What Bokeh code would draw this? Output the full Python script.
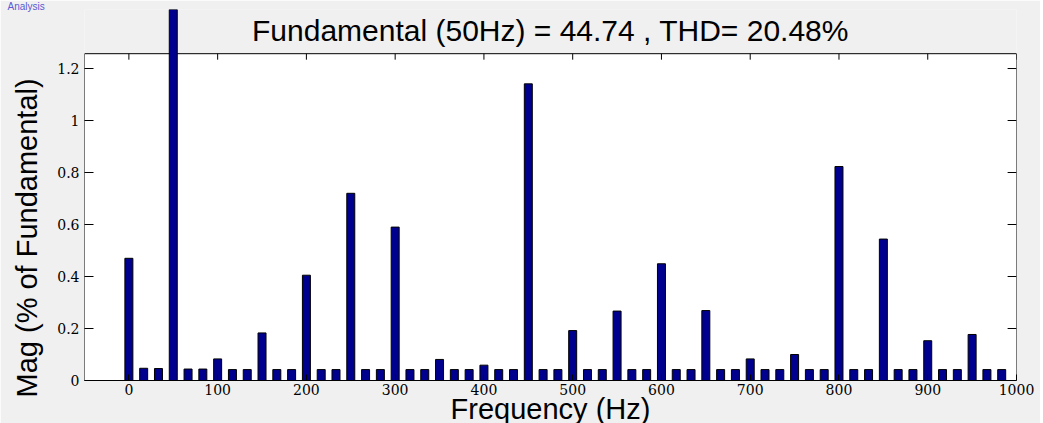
from bokeh.plotting import figure
from bokeh.layouts import row
from bokeh.models import (Range1d, FixedTicker, BoxAnnotation, Label, Title,
                          Spacer)
from bokeh.embed import file_html
from bokeh.resources import INLINE

# FFT bins are 50/3 Hz apart (3 cycles of 50 Hz in the analysis window)
n_bins = 60
bin_hz = [k * 50 / 3 for k in range(n_bins)]

# Magnitude of each bin, in % of the fundamental (50 Hz bin = 100 %)
mag_pct = [
    0.470, 0.047, 0.046, 100.0, 0.044, 0.044,   # 0 .. 83 Hz
    0.083, 0.042, 0.042, 0.183, 0.042, 0.042,   # 100 .. 183 Hz
    0.405, 0.042, 0.042, 0.720, 0.042, 0.042,   # 200 .. 283 Hz
    0.590, 0.042, 0.042, 0.081, 0.042, 0.042,   # 300 .. 383 Hz
    0.059, 0.042, 0.042, 1.141, 0.042, 0.042,   # 400 .. 483 Hz
    0.192, 0.042, 0.042, 0.267, 0.042, 0.042,   # 500 .. 583 Hz
    0.449, 0.042, 0.042, 0.269, 0.042, 0.042,   # 600 .. 683 Hz
    0.083, 0.042, 0.042, 0.100, 0.042, 0.042,   # 700 .. 783 Hz
    0.823, 0.042, 0.042, 0.544, 0.042, 0.042,   # 800 .. 883 Hz
    0.153, 0.042, 0.042, 0.177, 0.042, 0.042,   # 900 .. 983 Hz
]

x_ticks = [0, 100, 200, 300, 400, 500, 600, 700, 800, 900, 1000]
y_ticks = [0, 0.2, 0.4, 0.6, 0.8, 1, 1.2]
y_tick_text = {t: f"{t:g}" for t in y_ticks}

title_text = "Fundamental (50Hz) = 44.74 , THD= 20.48%"
x_label = "Frequency (Hz)"
y_label = "Mag (% of Fundamental)"
tool_text = "Analysis"

# axes box limits (the fundamental bar rises above the box)
x_lo, x_hi = -50, 1000
box_top = 1.257
view_top = 1.427

BG = "#f0f0f0"
BAR = "#00008f"
SANS = "Liberation Sans"

p = figure(
    width=1040, height=423,
    x_range=Range1d(x_lo, x_hi), y_range=Range1d(0, view_top),
    output_backend="svg", toolbar_location=None, title=None,
    min_border_left=84, min_border_right=24,
    min_border_top=9, min_border_bottom=43,
    margin=0,
)
p.background_fill_color = BG
p.border_fill_color = BG
p.outline_line_color = None
p.xgrid.visible = False
p.ygrid.visible = False

# white axes box with black border
p.add_layout(BoxAnnotation(left=x_lo, right=x_hi, bottom=0, top=box_top,
                           fill_color="white", fill_alpha=1.0,
                           line_color="black", line_alpha=1.0, line_width=1,
                           level="underlay"))

p.vbar(x=bin_hz, top=mag_pct, bottom=0, width=9,
       fill_color=BAR, line_color="black", line_width=1)

# inward ticks on the top and right sides of the box
p.segment(x0=x_ticks, x1=x_ticks, y0=[box_top] * len(x_ticks),
          y1=[box_top - 0.023] * len(x_ticks), line_color="black", line_width=1)
p.segment(x0=[x_hi] * len(y_ticks), x1=[x_hi - 10] * len(y_ticks),
          y0=y_ticks, y1=y_ticks, line_color="black", line_width=1)

tick_font = "DejaVu Serif"

xa = p.xaxis[0]
xa.ticker = FixedTicker(ticks=x_ticks)
xa.minor_tick_line_color = None
xa.major_tick_in = 6
xa.major_tick_out = 0
xa.major_label_standoff = 3
xa.major_label_text_font = tick_font
xa.major_label_text_font_size = "14px"
xa.major_label_text_color = "black"
xa.axis_line_color = "black"

ya = p.yaxis[0]
ya.ticker = FixedTicker(ticks=y_ticks)
ya.major_label_overrides = y_tick_text
ya.minor_tick_line_color = None
ya.major_tick_in = 9
ya.major_tick_out = 0
ya.major_label_standoff = 5
ya.major_label_text_font = tick_font
ya.major_label_text_font_size = "14px"
ya.major_label_text_color = "black"
ya.axis_line_color = None

x_mid = (x_lo + x_hi) / 2

# chart title sits just above the box, inside the plotting area
p.add_layout(Label(x=x_mid, y=box_top, y_offset=7, text=title_text,
                   text_align="center", text_baseline="bottom",
                   text_font=SANS, text_font_size="30px",
                   text_color="black"))

# axis titles as side-panel titles so they can be nudged freely
p.add_layout(Title(text=y_label, align="left", offset=-17,
                   vertical_align="top", standoff=20,
                   text_font=SANS, text_font_size="29px",
                   text_font_style="normal", text_color="black"), "left")

p.add_layout(Title(text=x_label, align="center", offset=0,
                   vertical_align="bottom", standoff=-14,
                   text_font=SANS, text_font_size="29px",
                   text_font_style="normal", text_color="black"), "below")

# small tool caption in the top-left corner
p.add_layout(Title(text=tool_text, align="left", offset=-77,
                   vertical_align="top", standoff=-9,
                   text_font=SANS, text_font_size="10px",
                   text_font_style="normal", text_color="#5a5ad2"), "above")

page = row(p, Spacer(width=3, height=423, margin=0), spacing=0, margin=0)

open("out.html", "w").write(file_html(page, INLINE))
